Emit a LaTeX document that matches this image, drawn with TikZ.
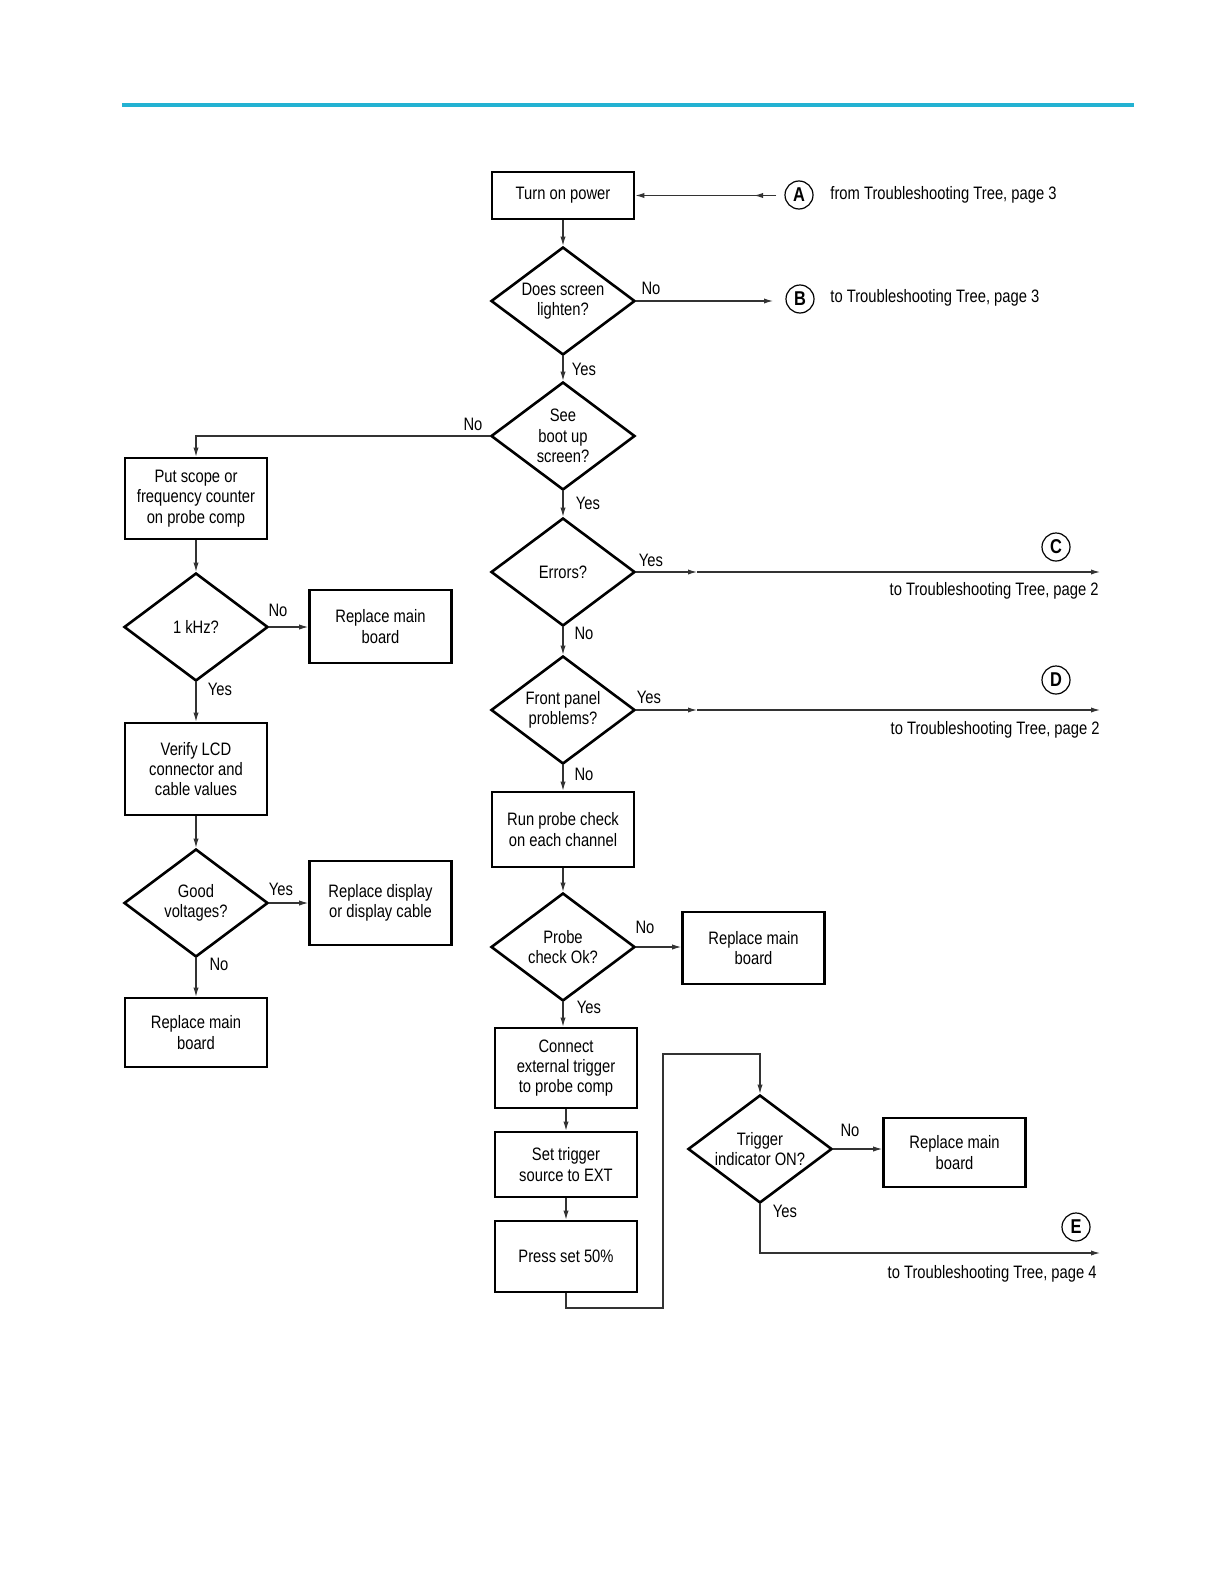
\documentclass[tikz,border=0pt]{standalone}
\usepackage{fontspec}
\setmainfont[FakeStretch=0.82]{Liberation Sans}
\usetikzlibrary{arrows.meta,shapes.geometric}

\definecolor{barcyan}{RGB}{35,178,210}

\begin{document}
\begin{tikzpicture}[
  x=0.5pt, y=-0.5pt,
  >={Latex[length=4.5pt,width=2.6pt]},
  every node/.style={font=\fontsize{9}{10.2}\selectfont},
  box/.style={draw, line width=1.3pt, minimum width=71pt, align=center, inner sep=0pt},
  decision/.style={draw, diamond, aspect=1.333, line width=1.3pt, minimum width=72pt, minimum height=54pt, align=center, inner sep=0pt},
  conn/.style={->, line width=0.55pt, black!80},
  tag/.style={draw, circle, line width=0.6pt, minimum size=14pt, inner sep=0pt, font=\fontsize{10}{12}\selectfont\bfseries},
  note/.style={inner sep=0pt}
]
\useasboundingbox (0,0) rectangle (1224,1584);

% ============================================================
% Header rule
% ============================================================
\draw[draw=barcyan, line width=2.2pt] (122,105) -- (1134,105);

% ============================================================
% Main column
% ============================================================
\node[box, minimum height=23.5pt] (power) at (563,195.5) {Turn on power};
\node[decision] (lighten) at (563,301) {Does screen\\lighten?};
\node[decision] (boot) at (563,436) {See\\boot up\\screen?};
\node[decision] (errors) at (563,572) {Errors?};
\node[decision] (panel) at (563,710) {Front panel\\problems?};
\node[box, minimum height=37.5pt] (probechk) at (563,829.5) {Run probe check\\on each channel};
\node[decision] (probeok) at (563,947) {Probe\\check Ok?};
\node[box, minimum height=36pt] (mainB) at (753.5,948) {Replace main\\board};
\node[box, minimum height=40pt] (extrig) at (566,1068) {Connect\\external trigger\\to probe comp};
\node[box, minimum height=32.5pt] (trigsrc) at (566,1164.5) {Set trigger\\source to EXT};
\node[box, minimum height=35.5pt] (half) at (566,1256.5) {Press set 50\%};
\node[decision] (trigon) at (760,1149) {Trigger\\indicator ON?};
\node[box, minimum height=34.5pt] (mainC) at (954.5,1152.5) {Replace main\\board};

\draw[conn] (power.south) -- (lighten.north);
\draw[conn] (lighten.south) -- (boot.north);
\draw[conn] (boot.south) -- (errors.north);
\draw[conn] (errors.south) -- (panel.north);
\draw[conn] (panel.south) -- (probechk.north);
\draw[conn] (probechk.south) -- (probeok.north);
\draw[conn] (probeok.east) -- (probeok.east -| mainB.west);
\draw[conn] (probeok.south) -- (probeok.south |- extrig.north);
\draw[conn] (extrig.south) -- (trigsrc.north);
\draw[conn] (trigsrc.south) -- (half.north);
\draw[conn] (trigon.east) -- (trigon.east -| mainC.west);

% loop back up to the trigger check
\coordinate (loopA) at (663,1308);
\coordinate (loopB) at (663,1054);
\draw[conn] (half.south) |- (loopA) -- (loopB) -| (trigon.north);

% ============================================================
% Left column
% ============================================================
\node[box, minimum height=40.5pt] (scope) at (196,498.5) {Put scope or\\frequency counter\\on probe comp};
\node[decision] (khz) at (196,627) {1 kHz?};
\node[box, minimum height=36.5pt] (mainA) at (380.5,626.5) {Replace main\\board};
\node[box, minimum height=46pt] (lcd) at (196,769) {Verify LCD\\connector and\\cable values};
\node[decision] (volts) at (196,903) {Good\\voltages?};
\node[box, minimum height=42pt] (display) at (380.5,903) {Replace display\\or display cable};
\node[box, minimum height=34.5pt] (mainD) at (196,1032.5) {Replace main\\board};

\draw[conn] (boot.west) -| (scope.north);
\draw[conn] (scope.south) -- (khz.north);
\draw[conn] (khz.east) -- (khz.east -| mainA.west);
\draw[conn] (khz.south) -- (lcd.north);
\draw[conn] (lcd.south) -- (volts.north);
\draw[conn] (volts.east) -- (display.west);
\draw[conn] (volts.south) -- (mainD.north);

% ============================================================
% Off-page connectors
% ============================================================
\node[tag] (tagA) at (799,195) {A};
\node[note, anchor=west] (txtA) at (830,195) {from Troubleshooting Tree, page 3};
\coordinate (inA) at (776,195.5);
\coordinate (tipA) at (754,195.5);
\draw[conn] (inA) -- (power.east);
\draw[conn] (inA) -- (tipA);

\node[tag] (tagB) at (800,299) {B};
\node[note, anchor=west] (txtB) at (830,298) {to Troubleshooting Tree, page 3};
\coordinate (outB) at (773,301);
\draw[conn] (lighten.east) -- (outB);

\node[tag] (tagC) at (1056,547) {C};
\node[note, anchor=east] (txtC) at (1099,591) {to Troubleshooting Tree, page 2};
\coordinate (midC) at (697,572);
\coordinate (outC) at (1100,572);
\draw[conn] (errors.east) -- (midC);
\draw[conn] (midC) -- (outC);

\node[tag] (tagD) at (1056,680) {D};
\node[note, anchor=east] (txtD) at (1100,730) {to Troubleshooting Tree, page 2};
\coordinate (midD) at (697,710);
\coordinate (outD) at (1100,710);
\draw[conn] (panel.east) -- (midD);
\draw[conn] (midD) -- (outD);

\node[tag] (tagE) at (1076,1227) {E};
\node[note, anchor=east] (txtE) at (1097,1274) {to Troubleshooting Tree, page 4};
\coordinate (outE) at (1100,1253);
\draw[conn] (trigon.south) |- (outE);

% ============================================================
% Yes / No labels
% ============================================================
\foreach \x/\y/\ans [count=\i] in {651/288/No, 584/369/Yes, 473/424/No, 588/503/Yes,
    651/560/Yes, 584/633/No, 649/697/Yes, 584/774/No, 645/927/No, 589/1007/Yes,
    850/1130/No, 785/1211/Yes, 278/610/No, 220/689/Yes, 281/889/Yes, 219/964/No} {
  \node (ans\i) at (\x,\y) {\ans};
}

\end{tikzpicture}
\end{document}
